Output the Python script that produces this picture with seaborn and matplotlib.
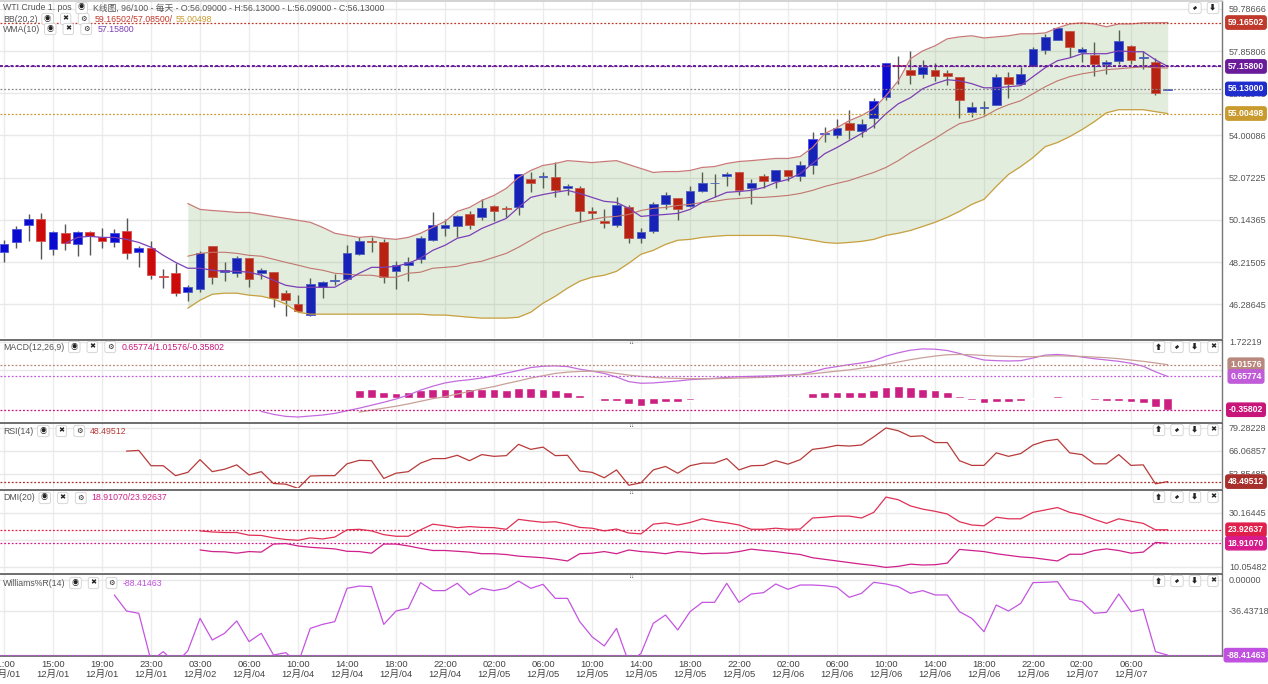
import numpy as np
import pandas as pd
import matplotlib.pyplot as plt
import seaborn as sns
from matplotlib.patches import FancyArrowPatch

# ---- hourly candles, WTI crude, 12/01 11:00 -> 12/07 ----
opens = [48.66, 49.11, 49.89, 50.16, 48.80, 49.53, 49.02, 49.57, 49.34, 49.11,
         49.62, 48.66, 48.84, 47.56, 47.70, 46.83, 46.97, 48.93, 47.75, 47.70,
         48.39, 47.70, 47.75, 46.79, 46.29, 45.79, 47.06, 47.34, 47.43, 48.57,
         49.16, 49.11, 47.79, 48.07, 48.34, 49.21, 49.75, 49.84, 50.39, 50.26,
         50.76, 50.67, 50.71, 52.03, 52.08, 52.08, 51.58, 51.58, 50.53, 50.07,
         49.89, 50.71, 49.30, 49.62, 50.89, 51.12, 50.76, 51.44, 51.81, 52.13,
         52.31, 51.58, 52.13, 51.90, 52.44, 52.13, 52.67, 54.09, 54.04, 54.59,
         54.22, 54.82, 55.77, 57.23, 57.01, 56.82, 57.01, 56.87, 56.69, 55.09,
         55.27, 55.41, 56.69, 56.37, 57.19, 57.92, 58.37, 58.78, 57.83, 57.69,
         57.28, 57.42, 58.10, 57.55, 57.37, 56.09]
highs = [49.21, 49.84, 50.39, 50.44, 49.62, 49.94, 49.62, 49.62, 49.75, 49.71,
         50.21, 48.93, 49.16, 47.88, 48.16, 47.15, 48.70, 48.93, 48.20, 48.48,
         48.39, 47.93, 47.75, 46.93, 46.70, 47.47, 47.34, 47.66, 48.98, 49.34,
         49.34, 49.25, 48.25, 48.43, 49.39, 50.48, 50.16, 50.35, 50.53, 51.08,
         50.80, 50.76, 52.26, 52.35, 52.35, 52.81, 51.76, 51.67, 50.71, 50.62,
         51.21, 50.80, 49.75, 50.98, 51.40, 51.12, 51.71, 52.35, 52.22, 52.31,
         52.31, 52.03, 52.26, 52.44, 52.44, 52.85, 54.18, 54.41, 54.77, 55.18,
         54.77, 55.73, 57.32, 57.64, 57.87, 57.46, 57.32, 57.01, 56.69, 55.55,
         55.59, 56.82, 56.91, 57.14, 58.05, 58.65, 58.92, 58.78, 58.05, 58.28,
         57.46, 58.83, 58.15, 57.87, 57.55, 56.13]
lows = [48.20, 48.84, 49.16, 48.34, 48.52, 48.75, 48.48, 48.52, 48.84, 48.89,
        48.34, 47.97, 47.43, 47.02, 46.65, 46.42, 46.83, 47.20, 47.34, 47.52,
        47.06, 47.43, 46.15, 45.74, 45.97, 45.74, 46.56, 47.15, 47.38, 48.52,
        48.66, 47.24, 46.97, 47.34, 48.16, 49.16, 49.39, 49.34, 49.71, 50.12,
        50.07, 50.26, 50.35, 51.40, 51.62, 51.17, 51.26, 50.03, 50.16, 49.75,
        49.80, 49.07, 49.07, 49.53, 50.62, 50.12, 50.71, 51.40, 51.17, 51.67,
        51.26, 50.85, 51.62, 51.58, 51.90, 51.90, 52.22, 53.72, 53.90, 53.86,
        53.95, 54.36, 55.64, 56.37, 56.37, 56.64, 56.50, 56.32, 54.82, 54.86,
        54.95, 55.41, 55.73, 56.32, 57.19, 57.74, 58.37, 57.60, 57.37, 56.73,
        56.82, 57.28, 57.28, 57.05, 55.86, 56.09]
closes = [49.02, 49.71, 50.16, 49.16, 49.57, 49.07, 49.57, 49.39, 49.16, 49.53,
          48.61, 48.84, 47.61, 47.52, 46.79, 47.06, 48.61, 47.52, 47.84, 48.39,
          47.43, 47.84, 46.56, 46.47, 45.97, 47.20, 47.29, 47.38, 48.61, 49.16,
          49.11, 47.52, 48.07, 48.20, 49.30, 49.89, 49.89, 50.30, 49.89, 50.67,
          50.57, 50.62, 52.22, 51.85, 52.13, 51.53, 51.67, 50.57, 50.44, 49.98,
          50.80, 49.30, 49.57, 50.89, 51.30, 50.62, 51.44, 51.85, 51.85, 52.26,
          51.53, 51.85, 51.94, 52.44, 52.17, 52.63, 53.86, 54.13, 54.36, 54.27,
          54.54, 55.59, 57.32, 57.19, 56.78, 57.14, 56.73, 56.73, 55.64, 55.32,
          55.32, 56.69, 56.37, 56.82, 57.96, 58.51, 58.92, 58.05, 57.96, 57.28,
          57.37, 58.33, 57.46, 57.60, 55.96, 56.13]

# ---- BB(20,2), from candle 15 ----
bb_start = 15
bb_upper = [50.89, 50.62, 50.57, 50.53, 50.48, 50.48, 50.39, 50.30, 50.21, 50.12,
            50.03, 49.80, 49.53, 49.43, 49.34, 49.39, 49.30, 49.25, 49.34, 49.53,
            49.80, 50.07, 50.53, 50.71, 51.03, 51.26, 51.58, 52.08, 52.40, 52.63,
            52.72, 52.85, 52.81, 52.76, 52.81, 52.85, 52.67, 52.49, 52.31, 52.35,
            52.35, 52.40, 52.54, 52.58, 52.72, 52.81, 52.85, 52.90, 52.95, 52.95,
            53.04, 53.45, 54.09, 54.36, 54.68, 54.91, 55.23, 55.82, 56.50, 57.51,
            57.87, 58.10, 58.42, 58.51, 58.56, 58.46, 58.51, 58.56, 58.65, 58.65,
            58.69, 58.92, 59.10, 59.15, 59.10, 58.97, 59.10, 59.10, 59.15, 59.15,
            59.165]
bb_mid = [48.48, 48.61, 48.66, 48.66, 48.61, 48.52, 48.48, 48.34, 48.20, 48.07,
          47.93, 47.84, 47.70, 47.66, 47.61, 47.61, 47.52, 47.52, 47.70, 47.75,
          47.93, 47.97, 48.02, 48.16, 48.25, 48.43, 48.61, 48.89, 49.21, 49.53,
          49.71, 49.89, 50.03, 50.16, 50.26, 50.30, 50.39, 50.57, 50.67, 50.71,
          50.80, 50.85, 50.94, 50.99, 51.08, 51.12, 51.17, 51.17, 51.21, 51.26,
          51.35, 51.49, 51.67, 51.81, 51.94, 52.13, 52.31, 52.54, 52.85, 53.22,
          53.54, 53.86, 54.22, 54.54, 54.68, 54.86, 55.18, 55.41, 55.59, 55.91,
          56.23, 56.50, 56.69, 56.82, 56.91, 57.01, 57.05, 57.10, 57.14, 57.10,
          57.085]
bb_lower = [46.10, 46.47, 46.74, 46.79, 46.79, 46.70, 46.65, 46.52, 46.29, 45.92,
            45.83, 45.83, 45.83, 45.83, 45.83, 45.83, 45.83, 45.83, 45.83, 45.83,
            45.79, 45.79, 45.74, 45.69, 45.65, 45.65, 45.65, 45.69, 45.92, 46.33,
            46.65, 47.02, 47.34, 47.52, 47.61, 47.79, 48.16, 48.57, 48.75, 49.02,
            49.21, 49.25, 49.34, 49.39, 49.43, 49.43, 49.43, 49.43, 49.43, 49.39,
            49.30, 49.21, 49.11, 49.07, 49.11, 49.16, 49.25, 49.43, 49.53, 49.66,
            49.84, 50.03, 50.26, 50.53, 50.85, 51.08, 51.67, 52.22, 52.58, 52.99,
            53.49, 53.68, 53.95, 54.27, 54.63, 55.04, 55.18, 55.18, 55.18, 55.09,
            55.005]

# ---- WMA(10), from candle 5 ----
wma_start = 5
wma = [49.07, 49.34, 49.39, 49.34, 49.34, 49.25, 49.11, 48.89, 48.52, 48.20,
       47.93, 47.93, 47.84, 47.79, 47.79, 47.75, 47.61, 47.38, 47.15, 47.06,
       47.06, 47.06, 47.06, 47.38, 47.70, 47.97, 47.97, 48.02, 48.16, 48.39,
       48.75, 48.98, 49.30, 49.43, 49.75, 49.98, 50.21, 50.71, 51.17, 51.30,
       51.40, 51.49, 51.35, 51.17, 50.99, 50.94, 50.67, 50.30, 50.35, 50.39,
       50.44, 50.62, 50.94, 51.17, 51.40, 51.44, 51.49, 51.62, 51.85, 51.99,
       52.26, 52.72, 53.17, 53.45, 53.77, 54.09, 54.45, 55.00, 55.45, 55.73,
       56.14, 56.37, 56.55, 56.50, 56.37, 56.18, 56.18, 56.23, 56.28, 56.69,
       57.10, 57.42, 57.55, 57.74, 57.74, 57.74, 57.87, 57.83, 57.83, 57.46,
       57.158]

# ---- MACD(12,26,9) ----
dif_start = 21
macd_dif = [-0.41, -0.50, -0.56, -0.58, -0.55, -0.52, -0.47, -0.39, -0.31, -0.22,
            -0.13, -0.03, 0.09, 0.24, 0.36, 0.46, 0.52, 0.56, 0.61, 0.68,
            0.76, 0.84, 0.93, 0.97, 0.98, 0.96, 0.88, 0.82, 0.75, 0.64,
            0.50, 0.45, 0.46, 0.49, 0.52, 0.56, 0.58, 0.60, 0.63, 0.65,
            0.66, 0.67, 0.68, 0.70, 0.72, 0.80, 0.90, 0.96, 1.02, 1.07,
            1.14, 1.28, 1.38, 1.46, 1.50, 1.49, 1.45, 1.36, 1.25, 1.16,
            1.14, 1.13, 1.14, 1.22, 1.31, 1.33, 1.30, 1.25, 1.20, 1.16,
            1.12, 1.06, 0.97, 0.80, 0.65774]
dea_start = 29
macd_dea = [-0.43, -0.37, -0.31, -0.25, -0.18, -0.10, -0.02, 0.04, 0.12, 0.20, 0.28,
            0.35, 0.44, 0.52, 0.61, 0.68, 0.75, 0.79, 0.81, 0.82, 0.80,
            0.75, 0.70, 0.66, 0.63, 0.61, 0.60, 0.59, 0.59, 0.59, 0.60,
            0.61, 0.62, 0.63, 0.65, 0.68, 0.71, 0.74, 0.78, 0.82, 0.86,
            0.91, 0.97, 1.03, 1.10, 1.17, 1.23, 1.28, 1.32, 1.33, 1.32,
            1.30, 1.28, 1.27, 1.26, 1.26, 1.28, 1.29, 1.28, 1.27, 1.25,
            1.23, 1.20, 1.16, 1.12, 1.07, 1.01576]
macd_hist = [0.24, 0.28, 0.18, 0.16, 0.19, 0.24, 0.27, 0.29, 0.28, 0.26,
             0.28, 0.27, 0.25, 0.30, 0.30, 0.29, 0.23, 0.18, 0.08, 0.005,
             -0.08, -0.10, -0.19, -0.24, -0.18, -0.12, -0.12, -0.07, -0.01,
             -0.02, 0.03, 0.005, -0.01, -0.01, 0.01, 0.005, 0.01,
             0.14, 0.18, 0.19, 0.19, 0.19, 0.24, 0.34, 0.36, 0.33, 0.29, 0.23, 0.19, 0.05,
             -0.05, -0.14, -0.11, -0.11, -0.10, -0.02, 0.02, 0.05, 0.02, -0.02,
             -0.07, -0.10, -0.10, -0.11, -0.16, -0.28, -0.35802]

# ---- RSI(14) ----
rsi_start = 10
rsi = [66.0, 66.4, 57.6, 57.6, 51.9, 53.8, 61.1, 54.2, 55.6, 58.1,
       52.3, 54.2, 47.4, 47.0, 44.6, 51.7, 51.9, 51.9, 58.7, 60.7,
       60.5, 50.3, 53.3, 54.2, 59.1, 61.7, 61.7, 63.6, 60.5, 64.0,
       63.0, 63.4, 69.9, 67.0, 68.3, 63.4, 63.6, 54.6, 53.8, 50.7,
       55.2, 46.4, 47.8, 55.2, 57.2, 53.3, 57.6, 59.1, 59.1, 61.7,
       55.2, 57.6, 57.8, 60.5, 58.5, 61.1, 67.0, 67.9, 69.3, 68.9,
       69.5, 74.2, 79.3, 77.7, 74.4, 74.8, 70.9, 70.9, 60.5, 57.8,
       57.8, 65.0, 63.0, 64.6, 69.5, 71.8, 72.8, 65.0, 64.0, 58.7,
       58.7, 64.0, 57.8, 58.1, 47.2, 48.49512]

# ---- DMI(20) ----
dmi_start = 16
dmi_up = [23.5, 23.1, 22.9, 22.9, 21.9, 21.8, 20.9, 20.3, 20.0, 20.9,
          20.5, 21.2, 23.9, 24.1, 23.5, 22.1, 21.5, 21.5, 23.9, 26.0,
          25.4, 24.7, 25.1, 24.8, 24.7, 24.1, 27.8, 27.2, 26.7, 26.9,
          26.0, 24.8, 24.5, 23.5, 24.2, 22.7, 22.4, 26.0, 26.5, 25.7,
          26.6, 28.0, 27.1, 26.5, 25.7, 24.1, 24.1, 24.5, 24.1, 24.2,
          28.3, 28.6, 29.0, 29.0, 28.3, 30.4, 36.1, 35.1, 32.8, 31.6,
          30.8, 29.8, 26.9, 25.7, 25.4, 28.6, 28.0, 28.0, 30.4, 31.3,
          32.2, 30.4, 29.5, 27.8, 26.3, 28.0, 27.1, 26.3, 23.9, 23.92637]
dmi_dn = [16.4, 15.8, 15.7, 15.2, 15.8, 15.6, 18.6, 18.8, 17.9, 17.4,
          17.1, 16.8, 15.9, 15.8, 15.2, 18.6, 18.6, 17.9, 17.0, 16.2,
          16.2, 15.9, 15.6, 15.0, 15.0, 14.7, 14.1, 13.8, 13.5, 13.0,
          12.3, 15.0, 15.2, 15.8, 15.0, 16.4, 15.8, 15.5, 15.0, 15.8,
          15.5, 15.0, 15.2, 15.2, 15.8, 16.7, 16.2, 15.8, 15.2, 14.7,
          13.5, 12.9, 12.3, 11.7, 11.1, 10.6, 9.9, 10.3, 11.1, 10.8,
          10.9, 11.5, 16.6, 16.2, 15.8, 15.0, 14.4, 13.8, 13.5, 12.9,
          12.3, 14.8, 14.8, 16.2, 16.8, 16.2, 15.2, 15.6, 19.2, 18.91070]

# ---- Williams %R(14) ----
wr_start = 9
williams = [-17.6,
            -36.5, -39.2, -95.0, -84.3, -98.0, -83.5, -45.1, -70.6, -62.7, -48.2,
            -72.5, -62.7, -88.2, -85.5, -98.0, -56.9, -52.2, -49.0, -9.8, -7.1,
            -7.8, -52.2, -36.5, -33.3, -3.1, -12.5, -12.5, -3.9, -17.6, -9.8,
            -12.5, -9.8, -1.2, -9.8, -5.1, -21.6, -21.6, -49.0, -66.7, -77.6,
            -56.9, -97.0, -86.3, -51.0, -41.2, -58.8, -37.3, -26.3, -26.3, -3.9,
            -26.3, -16.5, -14.9, -4.7, -11.0, -5.9, -5.9, -6.7, -8.6, -20.4,
            -15.7, -2.7, -4.7, -7.8, -15.7, -12.5, -17.6, -17.6, -37.3, -45.1,
            -60.8, -29.4, -36.5, -27.5, -3.1, -2.7, -2.0, -22.7, -25.5, -39.2,
            -38.0, -16.5, -37.3, -34.5, -84.3, -88.41463]

# ---- axis ticks ----
price_ticks = [59.78666, 57.85806, 55.92946, 54.00086, 52.07225, 50.14365, 48.21505, 46.28645]
macd_ticks = [1.72219]
rsi_ticks = [79.28228, 66.06857, 52.85485]
dmi_ticks = [30.16445, 20.10963, 10.05482]
wr_ticks = [0.0, -36.43718]
tick_times = ["11:00", "15:00", "19:00", "23:00", "03:00", "06:00", "10:00", "14:00",
              "18:00", "22:00", "02:00", "06:00", "10:00", "14:00", "18:00", "22:00",
              "02:00", "06:00", "10:00", "14:00", "18:00", "22:00", "02:00", "06:00"]
tick_dates = ["12月/01"] * 4 + ["12月/02"] + ["12月/04"] * 5 + ["12月/05"] * 6 + \
             ["12月/06"] * 6 + ["12月/07"] * 2

sns.set_theme(style="white")
plt.rcParams['font.family'] = ['Liberation Sans', 'Noto Sans CJK SC', 'DejaVu Sans']

W, H = 1268, 684
PLOT_R = 1222
fig = plt.figure(figsize=(W / 100, H / 100), dpi=100)
renderer = fig.canvas.get_renderer()

n = len(closes)
idx = np.arange(n)
tick_pos = np.arange(0, n, 4)


def panel(top, bottom):
    ax = fig.add_axes([0, 1 - bottom / H, PLOT_R / W, (bottom - top) / H])
    ax.set_xlim(-0.33, 99.43)
    for s in ['left', 'bottom']:
        ax.spines[s].set_visible(False)
    ax.spines['right'].set_color('#777')
    ax.spines['right'].set_linewidth(1)
    ax.spines['top'].set_color('#555')
    ax.spines['top'].set_linewidth(1.2)
    ax.yaxis.tick_right()
    ax.tick_params(axis='y', length=0, pad=5, labelsize=6.5, labelcolor='#555')
    ax.tick_params(axis='x', bottom=False, labelbottom=False)
    for t in tick_pos:
        ax.axvline(t, color='#ececec', lw=1, zorder=0)
    return ax


def set_ticks(ax, ticks, grid=None):
    ax.set_yticks(ticks)
    ax.set_yticklabels([f"{t:.5f}" for t in ticks])
    for t in (grid if grid is not None else ticks):
        ax.axhline(t, color='#e8e8e8', lw=1, zorder=0)


def tag(ax, value, text, color, line_color=None):
    ax.axhline(value, color=line_color or color, ls=(0, (1.5, 1.5)), lw=0.9, zorder=6)
    ax.text(1 + 24 / PLOT_R, value, text, transform=ax.get_yaxis_transform(),
            ha='center', va='center', fontsize=6.2, color='white', fontweight='bold',
            bbox=dict(boxstyle='round,pad=0.25', fc=color, ec=color), clip_on=False, zorder=10)


def line(ax, start, values, color, lw=0.9, z=4):
    xs = np.arange(start, start + len(values))
    sns.lineplot(x=xs, y=values, ax=ax, color=color, linewidth=lw, legend=False, zorder=z)


def icon_box(xc, y, s):
    fig.text(xc / W, 1 - y / H, s, fontsize=5.2, ha='center', va='center', color='#222',
             bbox=dict(boxstyle='round,pad=0.3', fc='white', ec='#d0d0d0', lw=0.6))


def expand_icon(xc, y):
    # diagonal double arrow (no installed font has this glyph)
    icon_box(xc, y, '    ')
    a = FancyArrowPatch(((xc - 3.5) / W, 1 - (y + 3) / H), ((xc + 3.5) / W, 1 - (y - 3) / H),
                        arrowstyle='<|-|>', mutation_scale=3.5, lw=0.7, color='#222',
                        transform=fig.transFigure, zorder=20)
    fig.add_artist(a)


def header(y, items, x0=3):
    x = x0
    for kind, s, color in items:
        if kind == 't':
            t = fig.text(x / W, 1 - y / H, s, color=color, fontsize=6.3, ha='left', va='center')
            x += t.get_window_extent(renderer).width + 3
        else:
            icon_box(x + 7, y, s)
            x += 18


def buttons(y, syms):
    for k, s in enumerate(syms):
        xc = PLOT_R - 9 - 18 * (len(syms) - 1 - k)
        if s == 'expand':
            expand_icon(xc, y)
        else:
            icon_box(xc, y, s)


EYE, CROSS, GEAR = '◉', '✖', '⚙'

# ---------------- price panel ----------------
ax = panel(1, 338)
ax.set_ylim(44.74, 60.15)
ax.spines['top'].set_color('#cccccc')
set_ticks(ax, price_ticks)

o, h, l, c = map(np.array, (opens, highs, lows, closes))
up = c >= o
col = np.where(up, '#0a0ad0', '#cc0a0a')
ax.vlines(idx, l, h, color='#555555', lw=1, zorder=2)
body_lo = np.minimum(o, c)
body_h = np.maximum(np.abs(c - o), 0.035)
ax.bar(idx, body_h, bottom=body_lo, width=0.72, color=col,
       edgecolor=np.where(up, '#4a55d8', '#d85050'), linewidth=0.6, zorder=3)

bb_x = np.arange(bb_start, bb_start + len(bb_upper))
ax.fill_between(bb_x, bb_lower, bb_upper, color='#5a9a3a', alpha=0.17, lw=0, zorder=3.5)
line(ax, bb_start, bb_upper, '#c87a78', 0.9)
line(ax, bb_start, bb_mid, '#c0766e', 0.8)
line(ax, bb_start, bb_lower, '#c8a040', 0.9)
line(ax, wma_start, wma, '#7b3fb5', 0.9)

tag(ax, 59.16502, '59.16502', '#c0392b')
ax.axhline(57.158, color='#6a1b9a', ls=(0, (1.5, 1.2)), lw=1.4, zorder=6)
tag(ax, 57.15800, '57.15800', '#6a1b9a')
tag(ax, 56.13000, '56.13000', '#1f2dcc', line_color='#888888')
tag(ax, 55.00498, '55.00498', '#c99a2e')

# ---------------- MACD ----------------
ax = panel(340, 421)
ax.set_ylim(-0.702, 1.771)
set_ticks(ax, macd_ticks, [1.72219, 0.86109])
hx = np.arange(dea_start, dea_start + len(macd_hist))
ax.bar(hx, macd_hist, width=0.72, color='#cc1f82', zorder=3)
line(ax, dif_start, macd_dif, '#c46be0', 0.9)
line(ax, dea_start, macd_dea, '#c9a097', 0.9)
tag(ax, 1.01576, '1.01576', '#b8877e')
tag(ax, 0.65774, '0.65774', '#c05cd8')
tag(ax, -0.35802, '-0.35802', '#c8157a')

# ---------------- RSI ----------------
ax = panel(423, 488)
ax.set_ylim(44.81, 82.15)
set_ticks(ax, rsi_ticks)
line(ax, rsi_start, rsi, '#b83a3a', 0.9)
tag(ax, 48.49512, '48.49512', '#a8302c')

# ---------------- DMI ----------------
ax = panel(490, 572)
ax.set_ylim(8.19, 38.73)
set_ticks(ax, dmi_ticks)
line(ax, dmi_start, dmi_up, '#e03056', 0.9)
line(ax, dmi_start, dmi_dn, '#d0208c', 0.9)
tag(ax, 23.92637, '23.92637', '#e0204a')
tag(ax, 18.91070, '18.91070', '#d81b8c')

# ---------------- Williams %R ----------------
ax = panel(574, 656)
ax.set_ylim(-89.4, 7.05)
set_ticks(ax, wr_ticks)
line(ax, wr_start, williams, '#c455e0', 0.9)
tag(ax, -88.41463, '-88.41463', '#c050e0')
ax.spines['bottom'].set_visible(True)
ax.spines['bottom'].set_color('#666')
ax.tick_params(axis='x', bottom=False, labelbottom=True, length=0, pad=3,
               labelsize=6.8, labelcolor='#444')
ax.set_xticks(tick_pos)
ax.set_xticklabels([f"{t}\n{d}" for t, d in zip(tick_times, tick_dates)], linespacing=1.05)

# ---------------- headers / buttons ----------------
header(8, [('t', 'WTI Crude 1. pos', '#555'), ('i', EYE, None),
           ('t', 'K线图, 96/100 - 每天 - O:56.09000 - H:56.13000 - L:56.09000 - C:56.13000', '#555')])
header(19, [('t', 'BB(20,2)', '#555'), ('i', EYE, None), ('i', CROSS, None), ('i', GEAR, None),
            ('t', '59.16502/57.08500/', '#c0392b'), ('t', '55.00498', '#c99a2e')])
header(29, [('t', 'WMA(10)', '#555'), ('i', EYE, None), ('i', CROSS, None), ('i', GEAR, None),
            ('t', '57.15800', '#7b3fb5')])
header(347, [('t', 'MACD(12,26,9)', '#555'), ('i', EYE, None), ('i', CROSS, None), ('i', GEAR, None),
             ('t', '0.65774/1.01576/-0.35802', '#c8157a')])
header(431, [('t', 'RSI(14)', '#555'), ('i', EYE, None), ('i', CROSS, None), ('i', GEAR, None),
             ('t', '48.49512', '#b83a3a')])
header(498, [('t', 'DMI(20)', '#555'), ('i', EYE, None), ('i', CROSS, None), ('i', GEAR, None),
             ('t', '18.91070/23.92637', '#d0208c')])
header(583, [('t', 'Williams%R(14)', '#555'), ('i', EYE, None), ('i', CROSS, None), ('i', GEAR, None),
             ('t', '-88.41463', '#c050e0')])

buttons(8, ['expand', '⬇'])
for top in (340, 423, 490, 574):
    buttons(top + 7, ['⬆', 'expand', '⬇', CROSS])
    fig.text(632 / W, 1 - (top + 3) / H, '⠿', fontsize=5, color='#777', ha='center', va='center')

fig.savefig('out.png', dpi=100)
